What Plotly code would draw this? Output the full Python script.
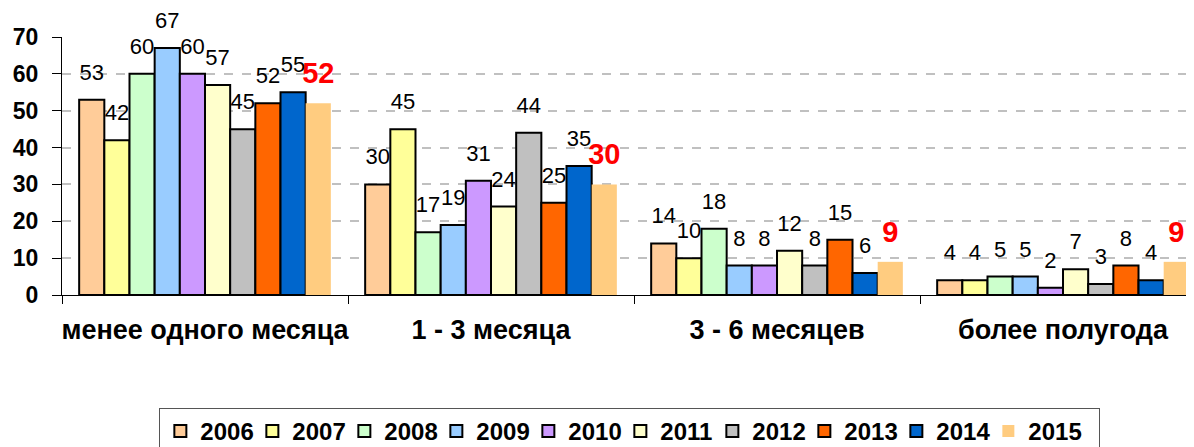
import plotly.graph_objects as go

categories = ["менее одного месяца", "1 - 3 месяца", "3 - 6 месяцев", "более полугода"]
years = ["2006", "2007", "2008", "2009", "2010", "2011", "2012", "2013", "2014", "2015"]
values = {
    "2006": [53, 30, 14, 4],
    "2007": [42, 45, 10, 4],
    "2008": [60, 17, 18, 5],
    "2009": [67, 19, 8, 5],
    "2010": [60, 31, 8, 2],
    "2011": [57, 24, 12, 7],
    "2012": [45, 44, 8, 3],
    "2013": [52, 25, 15, 8],
    "2014": [55, 35, 6, 4],
    "2015": [52, 30, 9, 9],
}
colors = ["#FFCC99", "#FFFF99", "#CCFFCC", "#99CCFF", "#CC99FF",
          "#FFFFCC", "#C0C0C0", "#FF6600", "#0066CC", "#FFCC80"]
y_ticks = [0, 10, 20, 30, 40, 50, 60, 70]

FONT = "Liberation Sans, Arial, sans-serif"
# invisible wide spacer: lifts the label above the bar (Excel-like gap)
PAD = "<span style='font-size:80px'>\u00a0</span>"

fig = go.Figure()
for yr, col in zip(years, colors):
    last = yr == "2015"
    fig.add_trace(go.Bar(
        name=yr,
        x=categories,
        y=values[yr],
        marker=dict(color=col,
                    line=dict(color=col if last else "#000000", width=0 if last else 2)),
        text=[PAD + str(v) + PAD for v in values[yr]],
        textposition="outside",
        constraintext="none",
        cliponaxis=False,
        legendwidth=66 if last else None,
        textfont=dict(family=FONT, size=29 if last else 22,
                      color="#FF0000" if last else "#000000",
                      weight="bold" if last else "normal"),
    ))

# page body has an 8px margin -> figure is drawn at (8, 8) in the window
fig.update_layout(
    width=1186, height=439,
    margin=dict(l=54, r=0, t=29, b=152, autoexpand=False),
    paper_bgcolor="white", plot_bgcolor="white",
    barmode="group", bargap=0.12, bargroupgap=0,
    font=dict(family=FONT, color="#000000"),
    showlegend=True,
    legend=dict(
        orientation="h", x=0.086, xanchor="left", y=-0.438, yanchor="top",
        font=dict(family=FONT, size=24, weight="bold"),
        bordercolor="#555555", borderwidth=1,
        traceorder="normal",
        entrywidth=47, itemwidth=30,
    ),
    xaxis=dict(
        range=[-0.5, 3.458],
        showline=True, linecolor="#000000", linewidth=1,
        ticks="outside", tickson="boundaries", ticklen=8, tickcolor="#000000",
        tickfont=dict(family=FONT, size=27, weight="bold"),
        tickangle=0,
        ticklabelstandoff=11,
    ),
    yaxis=dict(
        range=[0, 70], tickvals=y_ticks,
        showline=True, linecolor="#000000", linewidth=1,
        ticks="outside", ticklen=9, tickcolor="#000000",
        showgrid=True, gridcolor="#C0C0C0", griddash="dash", gridwidth=2,
        tickfont=dict(family=FONT, size=23, weight="bold"),
        ticklabelstandoff=9,
        zeroline=False,
    ),
)

fig.write_html("out.html")
